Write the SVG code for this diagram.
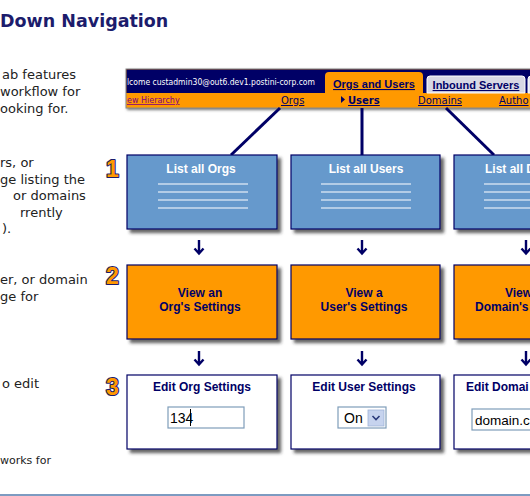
<svg xmlns="http://www.w3.org/2000/svg" width="530" height="496" viewBox="0 0 530 496">
<defs>
<filter id="sh" x="-10%" y="-10%" width="130%" height="140%">
<feDropShadow dx="3.5" dy="3.5" stdDeviation="1.6" flood-color="#333" flood-opacity="0.75"/>
</filter>
<filter id="bsh" x="-20%" y="-20%" width="150%" height="150%">
<feDropShadow dx="1.5" dy="1.5" stdDeviation="1" flood-color="#555" flood-opacity="0.8"/>
</filter>
</defs>
<style>
.body{font-family:"DejaVu Sans","Verdana",sans-serif;font-size:13px;fill:#222}
.title{font-family:"DejaVu Sans",sans-serif;font-weight:bold;font-size:17.5px;fill:#1c1c6c}
.blue{fill:#6699cc;stroke:#000066;stroke-width:1.2}
.orange{fill:#ff9900;stroke:#000066;stroke-width:1.2}
.white{fill:#fff;stroke:#000066;stroke-width:1.2}
.bt{font-family:"Liberation Sans",Arial,sans-serif;font-weight:bold;font-size:12px;text-anchor:middle}
.st{text-anchor:start}
.wt{fill:#fff}
.nt{fill:#000066}
.wl{stroke:#fff;stroke-width:1.2}
.conn{stroke:#000066;stroke-width:3;fill:none}
.arr{stroke:#000066;stroke-width:2.4;fill:none}
.badge{font-family:"Liberation Sans",Arial,sans-serif;font-weight:bold;font-size:23px;fill:#ff9900;stroke:#1c1c6c;stroke-width:2.2;paint-order:stroke;stroke-linejoin:round}
.inp{fill:#fff;stroke:#7f9db9;stroke-width:1.2}
.it{font-family:"Liberation Sans",Arial,sans-serif;font-size:14px;fill:#000}
.nav{font-family:"DejaVu Sans",Verdana,sans-serif;font-size:10px;fill:#000066;text-decoration:underline}
.tab{font-family:"Liberation Sans",Arial,sans-serif;font-weight:bold;font-size:11px;fill:#000066;text-decoration:underline;text-anchor:middle}
</style>
<rect width="530" height="496" fill="#fff"/>
<text class="title" x="0" y="27">Down Navigation</text>

<g id="left-text">
<text class="body" x="2" y="79">ab features</text>
<text class="body" x="0" y="96">workflow for</text>
<text class="body" x="0" y="113">ooking for.</text>
<text class="body" x="0" y="167">rs, or</text>
<text class="body" x="0" y="184">ge listing the</text>
<text class="body" x="13" y="200">or domains</text>
<text class="body" x="20" y="217">rrently</text>
<text class="body" x="2" y="233">).</text>
<text class="body" x="0" y="284">er, or domain</text>
<text class="body" x="0" y="301">ge for</text>
<text class="body" x="2" y="388">o edit</text>
<text class="body" x="0" y="464" style="font-size:11px">works for</text>
</g>

<g id="navbar">
<g filter="url(#bsh)">
<rect x="126" y="69" width="420" height="39" fill="#ff9900" stroke="#888" stroke-width="1"/>
</g>
<rect x="126.5" y="69.5" width="420" height="23.5" fill="#000066"/>
<text x="127" y="85" textLength="188" lengthAdjust="spacingAndGlyphs" style="font-family:'DejaVu Sans',Verdana,sans-serif;font-size:8px;fill:#fff">lcome custadmin30@out6.dev1.postini-corp.com</text>
<path d="M325,93 V76 Q325,72 329,72 H419 Q423,72 423,76 V93 Z" fill="#ff9900"/>
<text class="tab" x="374" y="88">Orgs and Users</text>
<path d="M427,93 V79 Q427,76 430,76 H522 Q525,76 525,79 V93 Z" fill="#d8d8e4" stroke="#fff" stroke-width="1"/>
<text class="tab" x="476" y="89">Inbound Servers</text>
<path d="M528,93 V79 Q528,76 531,76 H540 V93 Z" fill="#e8e8f0" stroke="#fff" stroke-width="1"/>
<text x="127" y="103" style="font-family:'DejaVu Sans',Verdana,sans-serif;font-size:8px;fill:#800080;text-decoration:underline">ew Hierarchy</text>
<text class="nav" x="281" y="104">Orgs</text>
<path d="M341,96 L345,99.5 L341,103 Z" fill="#000066"/>
<text class="nav" x="348" y="104" style="font-weight:bold">Users</text>
<text class="nav" x="418" y="104">Domains</text>
<text class="nav" x="499" y="104">Autho</text>
</g>

<g id="connectors">
<line class="conn" x1="280" y1="108" x2="231" y2="155"/>
<line class="conn" x1="362" y1="108" x2="362" y2="155"/>
<line class="conn" x1="446" y1="108" x2="494" y2="155"/>
<path class="arr" d="M199,240 V253 M194.5,248.5 L199,253.5 L203.5,248.5"/>
<path class="arr" d="M362,240 V253 M357.5,248.5 L362,253.5 L366.5,248.5"/>
<path class="arr" d="M526,240 V253 M521.5,248.5 L526,253.5 L530.5,248.5"/>
<path class="arr" d="M199,351 V364 M194.5,359.5 L199,364.5 L203.5,359.5"/>
<path class="arr" d="M362,351 V364 M357.5,359.5 L362,364.5 L366.5,359.5"/>
<path class="arr" d="M526,351 V364 M521.5,359.5 L526,364.5 L530.5,359.5"/>
</g>

<g id="badges">
<text class="badge" x="106" y="177">1</text>
<text class="badge" x="106" y="284">2</text>
<text class="badge" x="106" y="395">3</text>
</g>

<g id="list-orgs">
<rect class="blue" x="127" y="155" width="150" height="74" filter="url(#sh)"/>
<text class="bt wt" x="201" y="173">List all Orgs</text>
<path class="wl" d="M158,184H248M158,192H248M158,200H248M158,208H248"/>
</g>
<g id="list-users">
<rect class="blue" x="291" y="155" width="149" height="74" filter="url(#sh)"/>
<text class="bt wt" x="366" y="173">List all Users</text>
<path class="wl" d="M321,184H411M321,192H411M321,200H411M321,208H411"/>
</g>
<g id="list-domains">
<rect class="blue" x="454" y="155" width="150" height="74" filter="url(#sh)"/>
<text class="bt wt st" x="485" y="173">List all D</text>
<path class="wl" d="M484,184H574M484,192H574M484,200H574M484,208H574"/>
</g>

<g id="view-org">
<rect class="orange" x="127" y="265" width="150" height="74" filter="url(#sh)"/>
<text class="bt nt" x="200" y="297">View an</text>
<text class="bt nt" x="200" y="311">Org's Settings</text>
</g>
<g id="view-user">
<rect class="orange" x="291" y="265" width="149" height="74" filter="url(#sh)"/>
<text class="bt nt" x="364" y="297">View a</text>
<text class="bt nt" x="364" y="311">User's Settings</text>
</g>
<g id="view-domain">
<rect class="orange" x="454" y="265" width="150" height="74" filter="url(#sh)"/>
<text class="bt nt st" x="505" y="297">View</text>
<text class="bt nt st" x="475" y="311">Domain's</text>
</g>

<g id="edit-org">
<rect class="white" x="127" y="375" width="150" height="74" filter="url(#sh)"/>
<text class="bt nt" x="202" y="391">Edit Org Settings</text>
<rect class="inp" x="168" y="407" width="76" height="21"/>
<text class="it" x="170" y="423">134</text>
<line x1="190.5" y1="409" x2="190.5" y2="426" stroke="#000" stroke-width="1"/>
</g>
<g id="edit-user">
<rect class="white" x="291" y="375" width="149" height="74" filter="url(#sh)"/>
<text class="bt nt" x="364" y="391">Edit User Settings</text>
<rect class="inp" x="338" y="407" width="48" height="21"/>
<text class="it" x="344" y="423">On</text>
<rect x="368" y="410" width="16" height="16" fill="#c6d3ee" stroke="#9fb3d8" stroke-width="0.8"/>
<path d="M372.5,416 L376,419.5 L379.5,416" fill="none" stroke="#2a3a7a" stroke-width="1.6"/>
</g>
<g id="edit-domain">
<rect class="white" x="454" y="375" width="150" height="74" filter="url(#sh)"/>
<text class="bt nt st" x="466" y="391">Edit Domai</text>
<rect class="inp" x="472" y="409" width="100" height="21"/>
<text class="it" x="475" y="425" style="font-size:13.5px">domain.c</text>
</g>

<rect x="0" y="494" width="530" height="2" fill="#7d9bc1"/>
</svg>
